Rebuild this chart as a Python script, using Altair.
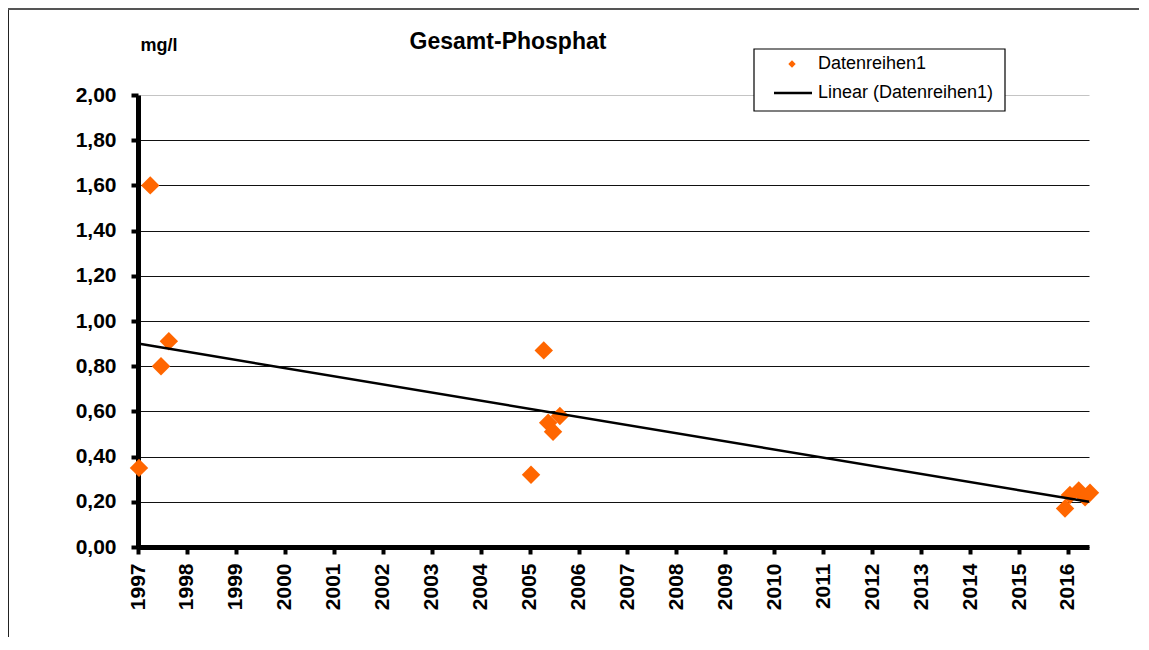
import altair as alt
import pandas as pd

# Data
years = [1997.02, 1997.25, 1997.47, 1997.63,
         2005.03, 2005.29, 2005.38, 2005.48, 2005.62,
         2015.94, 2016.04, 2016.22, 2016.35, 2016.45]
values = [0.35, 1.60, 0.80, 0.91,
          0.32, 0.87, 0.55, 0.51, 0.58,
          0.17, 0.23, 0.25, 0.22, 0.24]
trend_years = [1997.0, 2016.43]
trend_values = [0.90, 0.20]
tick_years = list(range(1997, 2017))
y_ticks = [0.0, 0.2, 0.4, 0.6, 0.8, 1.0, 1.2, 1.4, 1.6, 1.8, 2.0]

title_text = "Gesamt-Phosphat"
unit_text = "mg/l"
legend_labels = ["Datenreihen1", "Linear (Datenreihen1)"]

FONT = "Liberation Sans"
ORANGE = "#FF6600"
W, H = 951, 452
RIGHT = 50

df = pd.DataFrame({"year": years, "value": values})
trend = pd.DataFrame({"year": trend_years, "value": trend_values})

xscale = alt.Scale(domain=[1997, 2016.43], nice=False, zero=False)
yscale = alt.Scale(domain=[0, 2], nice=False)

xaxis = alt.Axis(values=tick_years, format="d", labelAngle=270, labelOverlap=False,
                 labelFlush=False, grid=False, title=None, labelFont=FONT,
                 labelFontSize=21, labelFontWeight="bold", labelColor="black",
                 tickSize=7, tickWidth=4, tickColor="black", domainColor="black",
                 domainWidth=5, labelPadding=9)
yaxis = alt.Axis(values=y_ticks, labelExpr="replace(format(datum.value, '.2f'), '.', ',')",
                 grid=True, gridColor={"condition": {"test": "datum.value >= 1.99", "value": "#c4c4c4"},
                                       "value": "#111111"},
                 gridWidth=1, title=None, labelFont=FONT, labelFontSize=21,
                 labelFontWeight="bold", labelColor="black", tickSize=7, tickWidth=4,
                 tickColor="black", domainColor="black", domainWidth=5, labelPadding=15,
                 labelFlush=False)

points = alt.Chart(df).mark_point(shape="diamond", filled=True, color=ORANGE, size=340,
                                  opacity=1, strokeWidth=0).encode(
    x=alt.X("year:Q", scale=xscale, axis=xaxis),
    y=alt.Y("value:Q", scale=yscale, axis=yaxis),
)

line = alt.Chart(trend).mark_line(color="black", strokeWidth=2.5).encode(
    x=alt.X("year:Q", scale=xscale),
    y=alt.Y("value:Q", scale=yscale),
)

one = alt.Data(values=[{"a": 1}])

# Frame around the chart
frame_left = alt.Chart(one).mark_rule(color="#222222", strokeWidth=1).encode(
    x=alt.value(-129.5), y=alt.value(-87), y2=alt.value(H + 90))
frame_top = alt.Chart(one).mark_rule(color="#555555", strokeWidth=2).encode(
    x=alt.value(-130), x2=alt.value(W + RIGHT), y=alt.value(-86))

title = alt.Chart(one).mark_text(text=title_text, font=FONT, fontSize=23, fontWeight="bold",
                                 align="center", baseline="middle", color="black").encode(
    x=alt.value(370), y=alt.value(-53))
unit = alt.Chart(one).mark_text(text=unit_text, font=FONT, fontSize=18, fontWeight="bold",
                                align="center", baseline="middle", color="black").encode(
    x=alt.value(21), y=alt.value(-49))

# Manual legend
leg_box = alt.Chart(one).mark_rect(fill="white", stroke="black", strokeWidth=1.2).encode(
    x=alt.value(616), x2=alt.value(867), y=alt.value(-46), y2=alt.value(16))
leg_sym = alt.Chart(one).mark_point(shape="diamond", filled=True, color=ORANGE, size=55,
                                    opacity=1).encode(x=alt.value(654), y=alt.value(-31))
leg_line = alt.Chart(one).mark_rule(color="black", strokeWidth=2.5).encode(
    x=alt.value(636), x2=alt.value(674), y=alt.value(-2))
leg_t1 = alt.Chart(one).mark_text(text=legend_labels[0], font=FONT, fontSize=18, align="left",
                                  baseline="middle", color="black").encode(
    x=alt.value(680), y=alt.value(-31))
leg_t2 = alt.Chart(one).mark_text(text=legend_labels[1], font=FONT, fontSize=18, align="left",
                                  baseline="middle", color="black").encode(
    x=alt.value(680), y=alt.value(-2))

chart = alt.layer(points, line, frame_left, frame_top, title, unit,
                  leg_box, leg_sym, leg_line, leg_t1, leg_t2).properties(
    width=W, height=H,
    padding={"left": 130, "top": 87, "right": RIGHT, "bottom": 90},
    autosize=alt.AutoSizeParams(type="none"),
    background="white",
).configure_view(stroke=None)

chart.save("out.html", embed_options={"renderer": "svg", "actions": False})
